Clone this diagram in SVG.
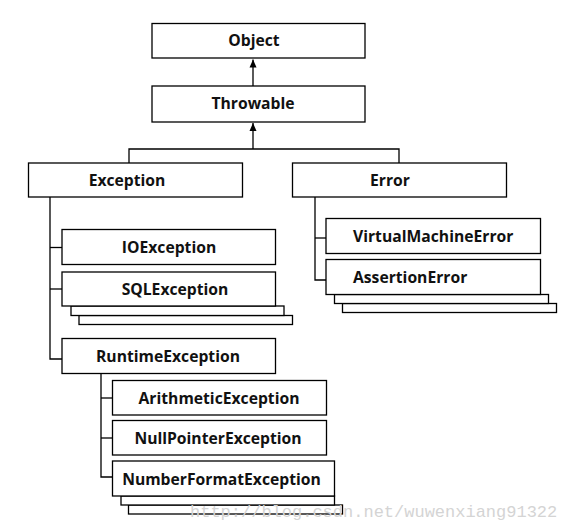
<svg xmlns="http://www.w3.org/2000/svg" width="565" height="524" viewBox="0 0 565 524">
<defs>
<style>
.box{fill:#fff;stroke:#000;stroke-width:1.3}
.ln{fill:none;stroke:#000;stroke-width:1.3}
.t{font-family:"Open Sans","Liberation Sans",sans-serif;font-weight:bold;font-size:15.7px;fill:#111;text-anchor:middle}
.ts{text-anchor:start}
.wm{font-family:"Liberation Mono","DejaVu Sans Mono",monospace;font-size:17px;fill:#d4d4d4}
</style>
<marker id="arr" viewBox="0 0 8 10" refX="8" refY="5" markerWidth="8" markerHeight="10" markerUnits="userSpaceOnUse" orient="auto">
<path d="M0,1.5 L8,5 L0,8.5 Z" fill="#000"/>
</marker>
</defs>
<rect width="565" height="524" fill="#fff"/>
<g id="connectors">
<line class="ln" x1="253" y1="86" x2="253" y2="59.5" marker-end="url(#arr)"/>
<line class="ln" x1="253" y1="149" x2="253" y2="123" marker-end="url(#arr)"/>
<polyline class="ln" points="129,163 129,149 399,149 399,163"/>
<polyline class="ln" points="50,197 50,359 62,359"/>
<line class="ln" x1="50" y1="247.5" x2="62" y2="247.5"/>
<line class="ln" x1="50" y1="289" x2="62" y2="289"/>
<polyline class="ln" points="315,197 315,280 326,280"/>
<line class="ln" x1="315" y1="238" x2="326" y2="238"/>
<polyline class="ln" points="101,373 101,477 112,477"/>
<line class="ln" x1="101" y1="398" x2="112" y2="398"/>
<line class="ln" x1="101" y1="438" x2="112" y2="438"/>
</g>
<g id="object"><rect class="box" x="152" y="23.5" width="213" height="34.5"/><text class="t" x="254" y="46">Object</text></g>
<g id="throwable"><rect class="box" x="152" y="86" width="213" height="36"/><text class="t" x="253" y="109">Throwable</text></g>
<g id="exception"><rect class="box" x="28.5" y="163" width="214" height="34"/><text class="t" x="127" y="185.5">Exception</text></g>
<g id="error"><rect class="box" x="292.5" y="163" width="214" height="34"/><text class="t" x="390" y="185.5">Error</text></g>
<g id="ioexception"><rect class="box" x="62" y="229.5" width="213.5" height="35"/><text class="t" x="169" y="252.5">IOException</text></g>
<g id="sqlexception">
<rect class="box" x="79" y="315.5" width="213.5" height="9"/>
<rect class="box" x="71" y="306" width="213" height="9.5"/>
<rect class="box" x="62" y="272" width="213.5" height="34"/>
<text class="t" x="175" y="294.5">SQLException</text></g>
<g id="runtimeexception"><rect class="box" x="62" y="338.5" width="213.5" height="35"/><text class="t" x="168" y="361.5">RuntimeException</text></g>
<g id="virtualmachineerror"><rect class="box" x="326" y="218.5" width="214.5" height="35"/><text class="t ts" x="353" y="241.5">VirtualMachineError</text></g>
<g id="assertionerror">
<rect class="box" x="342.5" y="303.5" width="214" height="9"/>
<rect class="box" x="334.5" y="294.5" width="214" height="9"/>
<rect class="box" x="326" y="259.5" width="214.5" height="35"/>
<text class="t ts" x="353" y="282.5">AssertionError</text></g>
<g id="arithmeticexception"><rect class="box" x="112.5" y="380.5" width="214" height="34.5"/><text class="t" x="219" y="403.5">ArithmeticException</text></g>
<g id="nullpointerexception"><rect class="box" x="112.5" y="420.5" width="214" height="34.5"/><text class="t" x="218" y="443.5">NullPointerException</text></g>
<g id="numberformatexception">
<rect class="box" x="128.5" y="505" width="214" height="9"/>
<rect class="box" x="121" y="496" width="213.5" height="9"/>
<rect class="box" x="112.5" y="461" width="222" height="35"/>
<text class="t" x="221.5" y="484.5">NumberFormatException</text></g>
<text class="wm" x="190" y="517">http://blog.csdn.net/wuwenxiang91322</text>
</svg>
